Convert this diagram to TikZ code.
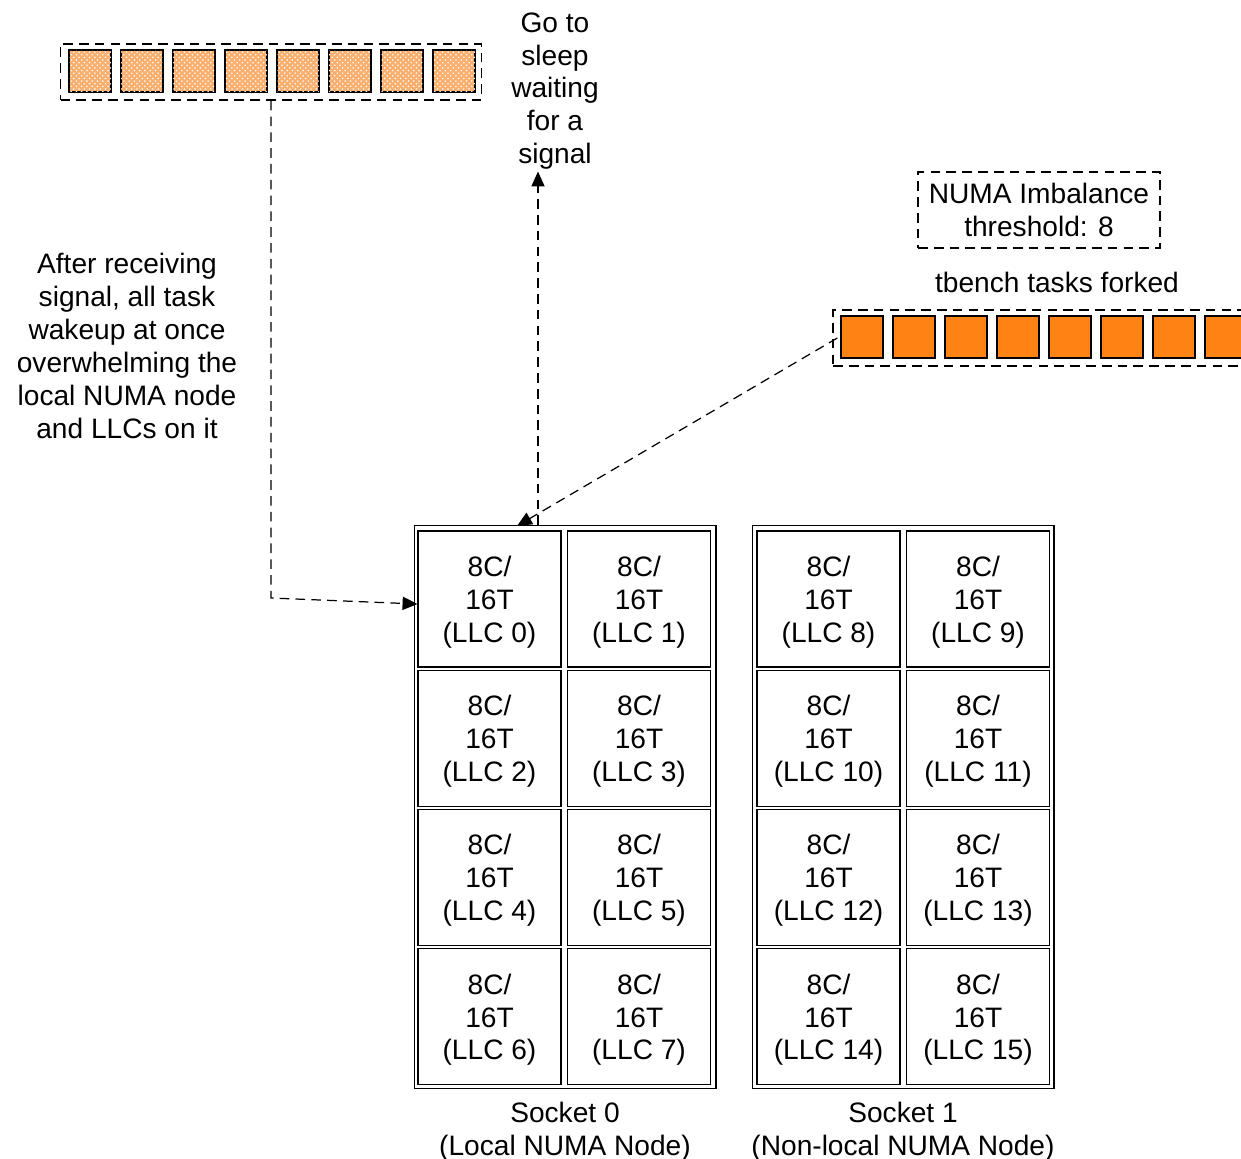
\documentclass[tikz,border=0pt]{standalone}
\usepackage{fontspec}
\setmainfont{Liberation Sans}
\usetikzlibrary{patterns,arrows.meta}
\definecolor{tareaNaranja}{RGB}{255,130,20}
\definecolor{tareaClara}{RGB}{250,175,110}

\begin{document}
\begin{tikzpicture}[x=0.02cm,y=-0.02cm,
		texto/.style={font=\fontsize{16}{18.7}\selectfont, align=center, inner sep=1pt},
		celda/.style={draw, line width=0.6pt, minimum width=2.86cm, minimum height=2.72cm, texto, text depth=0pt},
		caja/.style={draw, line width=0.8pt, dash pattern=on 5.5pt off 3.5pt, inner sep=0pt},
		tarea/.style={draw, line width=0.8pt, minimum size=0.84cm, inner sep=0pt},
		flecha/.style={line width=0.7pt, dash pattern=on 5.5pt off 3.5pt, -{Triangle[length=8.5pt,width=7.5pt]}}]
		\useasboundingbox (0,0) rectangle (1241,1159);
		
		% Sockets con sus LLCs
		\node[draw, line width=0.6pt, minimum width=6.04cm, minimum height=11.28cm] (socket0) at (565,807) {};
		\node[draw, line width=0.6pt, minimum width=6.04cm, minimum height=11.28cm] (socket1) at (903,807) {};
		\foreach \i in {0,...,15} {
			\pgfmathtruncatemacro{\s}{\i/8}
			\pgfmathtruncatemacro{\c}{mod(\i,2)}
			\pgfmathtruncatemacro{\r}{mod(int(\i/2),4)}
			\node[celda] (llc\i) at ({489.5+149.5*\c+339*\s},{599+139.3*\r}) {8C/\\16T\\(LLC \i)};
		}
		\node[texto, below=6pt] (nombre0) at (socket0.south) {Socket 0\\(Local NUMA Node)};
		\node[texto, below=6pt] (nombre1) at (socket1.south) {Socket 1\\(Non-local NUMA Node)};
		
		% Tareas dormidas (arriba a la izquierda)
		\node[caja, minimum width=8.42cm, minimum height=1.12cm] (cola) at (271,72) {};
		\foreach \k in {0,...,7} {
			\node[tarea, fill=tareaClara] (dormida\k) at ({90+52*\k},71) {};
			\fill[pattern=crosshatch dots, pattern color=white] (dormida\k.south west) rectangle (dormida\k.north east);
			\draw[line width=0.8pt] (dormida\k.south west) rectangle (dormida\k.north east);
		}
		
		% Tareas de tbench creadas (derecha)
		\node[caja, minimum width=8.8cm, minimum height=1.12cm] (forked) at (1053,338) {};
		\foreach \k in {0,...,7} {
			\node[tarea, fill=tareaNaranja] (nueva\k) at ({862+52*\k},337) {};
		}
		\node[texto] (titulo) at (1057,282) {tbench tasks forked};
		\node[caja, texto, minimum width=4.84cm, minimum height=1.52cm] (umbral) at (1039,210) {NUMA Imbalance\\threshold: 8};
		
		% Textos
		\node[texto] (dormir) at (555,91) {Go to\\sleep\\waiting\\for a\\signal};
		\node[texto] (despertar) at (127,346) {After receiving\\signal, all task\\wakeup at once\\overwhelming the\\local NUMA node\\and LLCs on it};
		
		% Flechas
		\coordinate (salida) at (538,525);
		\coordinate (llegada) at (517,526);
		\coordinate (codo) at (271,598);
		\draw[flecha] (salida) -- (salida |- dormir.south);
		\draw[flecha] ([xshift=0.1cm]forked.west) -- (llegada);
		\draw[flecha] (cola.south) -- (codo) -- ([yshift=-0.1cm]llc0.west);
\end{tikzpicture}
\end{document}
